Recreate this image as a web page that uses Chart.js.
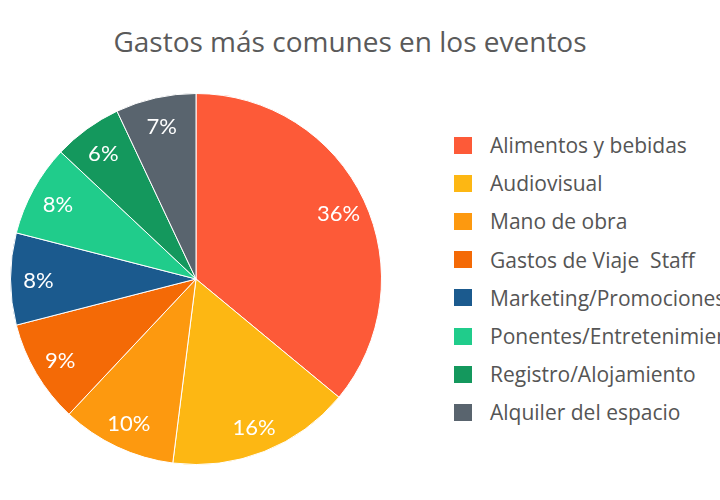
<!DOCTYPE html>
<html>
<head>
<meta charset="utf-8">
<script src="https://cdn.jsdelivr.net/npm/chart.js@4"></script>
<style>
    html, body { margin: 0; padding: 0; background: #fff; }
    body { width: 720px; height: 500px; overflow: hidden; position: relative; font-family: "Open Sans", sans-serif; }
    #title { position: absolute; left: 0; width: 700px; top: 22px; text-align: center; font-size: 28px; color: #5a5a5a; font-weight: 400; white-space: nowrap; }
    #pieWrap { position: absolute; left: 10px; top: 93px; width: 372px; height: 372px; }
    #legend { position: absolute; left: 454px; top: 126px; white-space: nowrap; }
    .item { height: 38.2px; display: flex; align-items: center; font-size: 21px; color: #555; }
    .box { width: 18px; height: 17px; margin-right: 18px; flex: none; }
</style>
</head>
<body>
<div id="title">Gastos más comunes en los eventos</div>
<div id="pieWrap"><canvas id="pieChart"></canvas></div>
<div id="legend"></div>
<script>
// Data
const categories = [
    'Alimentos y bebidas',
    'Audiovisual',
    'Mano de obra',
    'Gastos de Viaje  Staff',
    'Marketing/Promociones',
    'Ponentes/Entretenimiento',
    'Registro/Alojamiento',
    'Alquiler del espacio'
];
const shares = [36, 16, 10, 9, 8, 8, 6, 7];
const sliceColors = ['#fd5a38', '#fdb713', '#fd990f', '#f46a06', '#1b5a8e', '#20cc8b', '#14985d', '#59646e'];

// Build legend
const legendEl = document.getElementById('legend');
categories.forEach((name, i) => {
    const row = document.createElement('div');
    row.className = 'item';
    row.innerHTML = `<span class="box" style="background:${sliceColors[i]}"></span><span>${name.replace(/  /g, ' &nbsp;')}</span>`;
    legendEl.appendChild(row);
});

// Percent labels inside slices
const sliceLabels = {
    id: 'sliceLabels',
    afterDatasetsDraw(chart) {
        const { ctx } = chart;
        const meta = chart.getDatasetMeta(0);
        ctx.save();
        ctx.font = '22px Lato, sans-serif';
        ctx.fillStyle = '#ffffff';
        ctx.textAlign = 'center';
        ctx.textBaseline = 'middle';
        meta.data.forEach((arc, i) => {
            const p = arc.getProps(['x', 'y', 'startAngle', 'endAngle', 'outerRadius'], true);
            const mid = (p.startAngle + p.endAngle) / 2;
            const r = p.outerRadius * 0.85;
            ctx.fillText(shares[i] + '%', p.x + Math.cos(mid) * r, p.y + Math.sin(mid) * r + 2);
        });
        ctx.restore();
    }
};

new Chart(document.getElementById('pieChart'), {
    type: 'pie',
    data: {
        labels: categories,
        datasets: [{
            data: shares,
            backgroundColor: sliceColors,
            borderColor: '#ffffff',
            borderWidth: 1
        }]
    },
    options: {
        responsive: true,
        maintainAspectRatio: false,
        animation: false,
        layout: { padding: 0 },
        plugins: {
            legend: { display: false },
            tooltip: { enabled: false },
            title: { display: false }
        }
    },
    plugins: [sliceLabels]
});
</script>
</body>
</html>
